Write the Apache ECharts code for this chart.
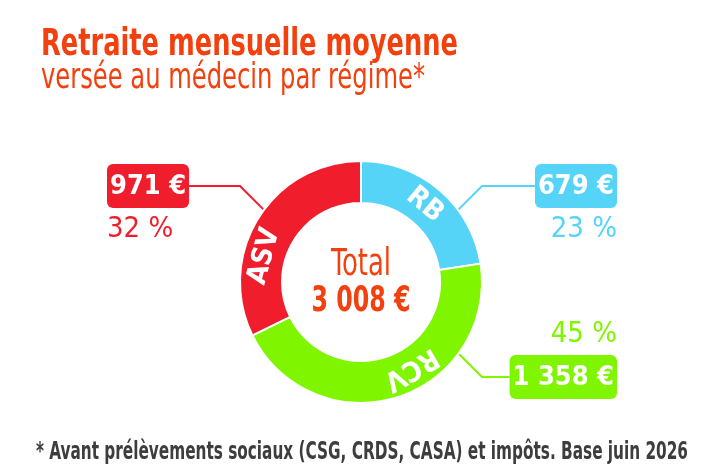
<html>
<head>
    <meta charset="utf-8">
    <title>Retraite mensuelle moyenne</title>
    <script src="https://cdn.jsdelivr.net/npm/echarts/dist/echarts.min.js"></script>
    <style>
        html, body { margin: 0; padding: 0; background: #fff; }
    </style>
</head>
<body>
    <div id="main" style="width:724px;height:469px;"></div>
    <script type="text/javascript">
    // données
    var regimes = ['RB', 'RCV', 'ASV'];
    var montants = [679, 1358, 971];
    var couleurs = ['#55d4f8', '#80f500', '#f01e2c'];

    var titre = 'Retraite mensuelle moyenne';
    var sousTitre = 'versée au médecin par régime*';
    var note = '* Avant prélèvements sociaux (CSG, CRDS, CASA) et impôts. Base juin 2026';

    var FAM = "'DejaVu Sans Condensed', 'Liberation Sans Narrow', sans-serif";
    var ORANGE = '#f2400e';
    var CX = 361, CY = 282, R = 121, R0 = 79, RM = (R + R0) / 2;

    // place des étiquettes (x, y, alignement)
    var places = [
        { x: 617, y: 165, align: 'right', va: 'top' },
        { x: 617, y: 398, align: 'right', va: 'bottom' },
        { x: 107, y: 165, align: 'left', va: 'top' }
    ];
    var BOX_H = 42;
    // décalage angulaire des noms dans l'anneau (degrés)
    var decalageNoms = [-1, -12.5, -17];

    function euros(v) {
        return String(v).replace(/\B(?=(\d{3})+(?!\d))/g, ' ') + ' €';
    }

    var total = 0;
    for (var i = 0; i < montants.length; i++) total += montants[i];

    // angle du milieu de chaque part, sens horaire depuis midi
    var cumul = 0;
    var milieux = [];
    for (var i = 0; i < montants.length; i++) {
        milieux.push((cumul + montants[i] / 2) / total * 360);
        cumul += montants[i];
    }

    // texte condensé : on mesure puis on resserre horizontalement
    var ctx = document.createElement('canvas').getContext('2d');
    function largeur(txt, font) { ctx.font = font; return ctx.measureText(txt).width; }
    function texte(txt, font, x, y, w, color, align) {
        return {
            type: 'text', x: x, y: y, scaleX: w / largeur(txt, font),
            style: { text: txt, font: font, fill: color, align: align || 'left', verticalAlign: 'top' }
        };
    }

    var rich = {};
    for (var i = 0; i < couleurs.length; i++) {
        rich['b' + i] = {
            color: '#fff', backgroundColor: couleurs[i], borderRadius: 6,
            padding: [9, 3, 8, 3], fontSize: 27, fontWeight: 'bold',
            lineHeight: 42, fontFamily: FAM
        };
        rich['p' + i] = {
            color: couleurs[i], fontSize: 29, lineHeight: 44, fontFamily: FAM
        };
    }

    var dataAnneau = regimes.map(function (n, i) {
        return { name: n, value: montants[i], itemStyle: { color: couleurs[i] } };
    });
    var dataNoms = regimes.map(function (n, i) {
        return { name: n, value: montants[i] };
    });

    var myChart = echarts.init(document.getElementById('main'));

    var option = {
        animation: false,
        backgroundColor: '#fff',
        graphic: [
            texte(titre, 'bold 37px ' + FAM, 41, 27, 417, ORANGE),
            texte(sousTitre, 'normal 36px ' + FAM, 41, 61, 384, ORANGE),
            texte('Total', 'normal 37px ' + FAM, CX, 247, 60, ORANGE, 'center'),
            texte(euros(total), 'bold 35px ' + FAM, CX, 284, 99, ORANGE, 'center'),
            texte(note, 'bold 24px ' + FAM, 36, 441, 652, '#3d3d3d')
        ],
        series: [{
            name: 'montants',
            type: 'pie',
            center: [CX, CY],
            radius: [R0, R],
            startAngle: 90,
            clockwise: true,
            percentPrecision: 0,
            avoidLabelOverlap: false,
            itemStyle: { borderColor: '#fff', borderWidth: 2 },
            label: {
                show: true,
                position: 'outside',
                rich: rich,
                formatter: function (p) {
                    var i = p.dataIndex;
                    var box = '{b' + i + '|' + euros(p.value) + '}';
                    var pc = '{p' + i + '|' + p.percent + ' %}';
                    return places[i].va === 'bottom' ? pc + '\n' + box : box + '\n' + pc;
                }
            },
            labelLine: { show: true, length: 10, length2: 10, lineStyle: { width: 2 } },
            labelLayout: function (p) {
                var s = places[p.dataIndex];
                var side = s.align === 'right' ? 1 : -1;
                var yl = s.va === 'top' ? s.y + BOX_H / 2 : s.y - BOX_H / 2;
                var bord = side > 0 ? s.x - p.labelRect.width : s.x + p.labelRect.width;
                var ex = CX + side * R, ey = yl;
                // diagonale à 45° jusqu'au bord de l'anneau
                var dx = -side, dy = ey > CY ? -1 : 1;
                var ux = ex - CX, uy = ey - CY;
                var ud = ux * dx + uy * dy;
                var c = ux * ux + uy * uy - R * R;
                var t = (-ud - Math.sqrt(Math.max(ud * ud - 2 * c, 0))) / 2;
                return {
                    x: s.x, y: s.y, align: s.align, verticalAlign: s.va,
                    labelLinePoints: [[ex + t * dx, ey + t * dy], [ex, ey], [bord, ey]]
                };
            },
            data: dataAnneau
        }, {
            name: 'noms',
            type: 'pie',
            silent: true,
            z: 3,
            center: [CX, CY],
            radius: [R0, R],
            startAngle: 90,
            clockwise: true,
            itemStyle: { color: 'transparent', borderWidth: 0 },
            label: {
                show: true,
                position: 'inside',
                formatter: '{b}',
                color: '#fff',
                fontSize: 28,
                fontWeight: 'bold',
                fontFamily: FAM
            },
            labelLine: { show: false },
            labelLayout: function (p) {
                var i = p.dataIndex;
                var deg = milieux[i] + decalageNoms[i];
                var a = deg * Math.PI / 180;
                var rot = -deg;
                if (rot <= -180) rot += 360;
                return {
                    x: CX + RM * Math.sin(a), y: CY - RM * Math.cos(a),
                    align: 'center', verticalAlign: 'middle', rotate: rot
                };
            },
            data: dataNoms
        }]
    };
    myChart.setOption(option);
    </script>
</body>
</html>
